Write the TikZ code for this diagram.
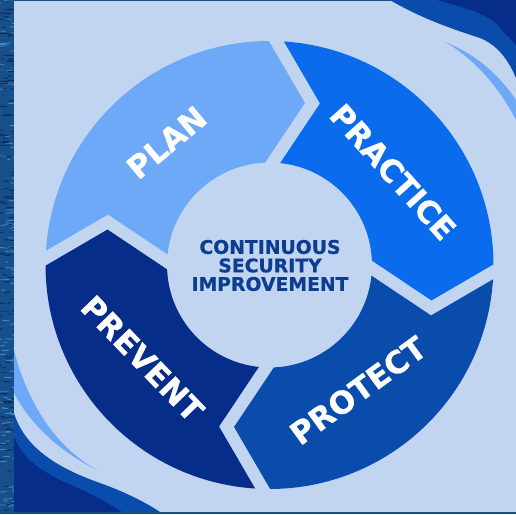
\documentclass[tikz,border=0pt]{standalone}
\usepackage{fontspec}
\newfontfamily\heavy{DejaVu Sans}[BoldFeatures={FakeBold=0.6}]
\definecolor{panel}{HTML}{C1D5F1}
\definecolor{planc}{HTML}{6DA9F7}
\definecolor{practc}{HTML}{0A6CED}
\definecolor{protc}{HTML}{0A4CAB}
\definecolor{prevc}{HTML}{062D8A}
\definecolor{txtc}{HTML}{0D3D8F}
\definecolor{texm}{HTML}{174F8A}
\definecolor{texl}{HTML}{3D86C9}
\definecolor{texd}{HTML}{0A2A55}
\newcommand{\ringseg}[2]{%
  \begin{scope}[rotate=#1]
    \fill[#2] (88.08:224) arc[start angle=88.08, end angle=1.92, radius=224]
      -- (163,-30.5) -- (4.2:102.5) arc[start angle=4.2, end angle=85.8, radius=102.5]
      -- (45.5,163) -- cycle;
  \end{scope}}
\begin{document}
\begin{tikzpicture}[x=1pt,y=1pt,
  word/.style={text=white, font=\heavy\bfseries\fontsize{31}{31}\selectfont, inner sep=0pt},
  midtext/.style={text=txtc, font=\heavy\bfseries\fontsize{18.8}{18.5}\selectfont, align=center, inner sep=0pt}]
\useasboundingbox (0,0) rectangle (516,514);
% textured frame
\fill[texm] (0,0) rectangle (516,514);
\begin{scope}
  \clip (0,0) rectangle (14,514);
  \pgfmathsetseed{11}
  \foreach \i in {1,...,340}{
    \pgfmathsetmacro\xx{rnd*18-3}
    \pgfmathsetmacro\yy{rnd*514}
    \pgfmathsetmacro\ll{3+rnd*8}
    \pgfmathsetmacro\dd{rnd*2-1}
    \pgfmathtruncatemacro\cc{rnd*3}
    \ifcase\cc \def\col{texl}\or \def\col{texd}\else \def\col{texm}\fi
    \draw[\col, line width=0.9pt] (\xx,\yy) -- ++(\ll,\dd);
  }
\end{scope}
% light panel
\fill[panel] (14,2) rectangle (516,513);
% top-right waves
\fill[protc] (390,514) .. controls (420,496) and (455,484) .. (480,476)
  .. controls (500,468) and (510,450) .. (516,436) -- (516,514) -- cycle;
\fill[prevc] (437,514) .. controls (465,506) and (490,500) .. (500,486)
  .. controls (507,478) and (512,474) .. (516,469) -- (516,514) -- cycle;
\fill[planc] (445,472) .. controls (470,462) and (495,445) .. (516,414)
  -- (516,394) .. controls (500,425) and (475,455) .. (445,472) -- cycle;
% bottom-left waves
\fill[planc] (14,164) .. controls (25,120) and (50,70) .. (97,44)
  .. controls (60,62) and (30,90) .. (14,121) -- cycle;
\fill[protc] (14,101) .. controls (25,65) and (60,45) .. (100,31)
  .. controls (125,22) and (145,12) .. (160,2) -- (14,2) -- cycle;
\fill[prevc] (14,77) .. controls (25,50) and (50,38) .. (80,25)
  .. controls (100,16) and (112,8) .. (122,2) -- (14,2) -- cycle;
% ring
\begin{scope}[shift={(269.5,249)}, rotate=-1.75]
  \ringseg{0}{practc}
  \ringseg{-90}{protc}
  \ringseg{-180}{prevc}
  \ringseg{90}{planc}
\end{scope}
% labels
\node[word, rotate=40] (plan) at (166.5,371.5) {PLAN};
\node[word, rotate=-48] (practice) at (393,342) {PRACTICE};
\node[word, rotate=36] (protect) at (358,123.5) {PROTECT};
\node[word, rotate=-46] (prevent) at (142.5,155.5) {PREVENT};
\node[midtext] (center) at (270,248.5) {CONTINUOUS\\SECURITY\\IMPROVEMENT};
\end{tikzpicture}
\end{document}
